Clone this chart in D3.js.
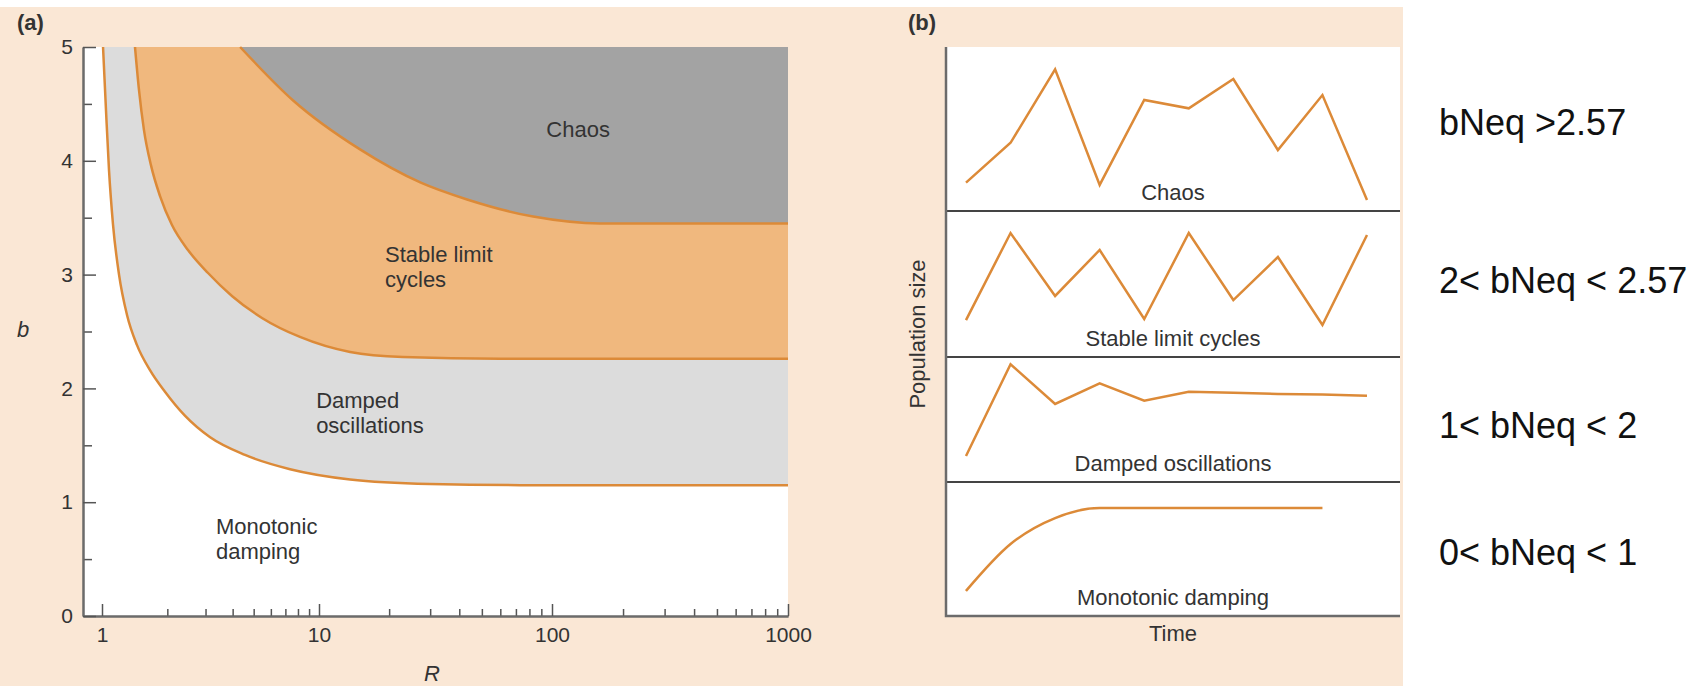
<!DOCTYPE html>
<html>
<head>
<meta charset="utf-8">
<script src="https://cdn.jsdelivr.net/npm/d3@7"></script>
<style>
	body { margin: 0; background: #fff; }
	svg { display: block; font-family: "Liberation Sans", Arial, Helvetica, sans-serif; }
</style>
</head>
<body>
<div class="chart"></div>
<script>
// ---- panel (a): stability boundaries in the (R, b) plane ----
const monoR = [1.011, 1.043, 1.077, 1.124, 1.198, 1.304, 1.45, 1.664, 1.951, 2.41, 3.15, 4.56, 7.36, 13.6, 29.9, 73.2, 1000];
const monoB = [5.0, 4.45, 3.92, 3.44, 3.0, 2.645, 2.38, 2.16, 1.97, 1.76, 1.57, 1.415, 1.29, 1.2, 1.16, 1.15, 1.15];
const dampR = [1.419, 1.481, 1.561, 1.682, 1.851, 2.101, 2.49, 3.08, 3.97, 5.46, 8.17, 13.6, 22.9, 59.9, 1000];
const dampB = [5.0, 4.62, 4.27, 3.96, 3.69, 3.436, 3.216, 3.014, 2.812, 2.619, 2.452, 2.32, 2.276, 2.26, 2.26];
const chaosR = [4.33, 7.6, 15, 27.2, 43.2, 83, 160, 1000];
const chaosB = [5.0, 4.53, 4.1, 3.81, 3.66, 3.51, 3.45, 3.45];

const xMajor = [1, 10, 100, 1000];
const xMinor = [2, 3, 4, 5, 6, 7, 8, 9, 20, 30, 40, 50, 60, 70, 80, 90, 200, 300, 400, 500, 600, 700, 800, 900];
const yMajor = [0, 1, 2, 3, 4, 5];
const yMinor = [0.5, 1.5, 2.5, 3.5, 4.5];

const regionText = [["Chaos"], ["Stable limit", "cycles"], ["Damped", "oscillations"], ["Monotonic", "damping"]];
const regionR = [129, 19.2, 9.7, 3.35];
const regionB = [4.21, 3.11, 1.83, 0.72];

// ---- panel (b): population size over time ----
const timeSteps = [0, 1, 2, 3, 4, 5, 6, 7, 8, 9];
const chaosSeries = [1.73, 4.16, 8.64, 1.59, 6.77, 6.26, 8.05, 3.72, 7.07, 0.67];
const cycleSeries = [2.53, 8.49, 4.18, 7.33, 2.60, 8.49, 3.90, 6.85, 2.19, 8.36];
const dampedSeries = [2.08, 9.42, 6.24, 7.90, 6.50, 7.22, 7.14, 7.04, 7.0, 6.9];
const monoSeries = [1.87, 5.37, 7.31, 8.06, 8.06, 8.06, 8.06, 8.06, 8.06];
const panelNames = ["Chaos", "Stable limit cycles", "Damped oscillations", "Monotonic damping"];

const conditions = ["bNeq >2.57", "2< bNeq < 2.57", "1< bNeq < 2", "0< bNeq < 1"];

(function () {
	const orange = "#dc8a38";
	const axisGrey = "#6b6b6b";
	const ink = "#333";

	const svg = d3.select(".chart").append("svg")
		.attr("width", 1704)
		.attr("height", 686);

	svg.append("rect")
		.attr("x", 0).attr("y", 7)
		.attr("width", 1403).attr("height", 679)
		.attr("fill", "#fae7d5");

	drawPanelA(svg, orange, axisGrey, ink);
	drawPanelB(svg, orange, axisGrey, ink);

	// conditions on the right
	const yCond = [135, 293, 438, 565];
	svg.selectAll(".cond")
		.data(conditions)
		.enter().append("text")
		.attr("class", "cond")
		.attr("x", 1439)
		.attr("y", function (d, i) { return yCond[i]; })
		.attr("font-size", 36)
		.attr("fill", "#111")
		.text(function (d) { return d; });
}());

function drawPanelA(svg, orange, axisGrey, ink) {
	const left = 83, right = 788, top = 47, bottom = 616;

	// the hand-drawn decades are not evenly spaced, so the log scale is piecewise
	const x = d3.scaleLog()
		.domain([0.83, 1, 10, 100, 1000])
		.range([left, 102, 319, 552, right]);
	const y = d3.scaleLinear().domain([0, 5]).range([bottom, top]);

	svg.append("text")
		.attr("x", 17).attr("y", 30)
		.attr("font-size", 22).attr("font-weight", "bold")
		.attr("fill", ink)
		.text("(a)");

	svg.append("rect")
		.attr("x", left).attr("y", top)
		.attr("width", right - left).attr("height", bottom - top)
		.attr("fill", "#fff");

	const boundaries = [
		{R: monoR, B: monoB, fill: "#dcdcdc"},
		{R: dampR, B: dampB, fill: "#f0b87e"},
		{R: chaosR, B: chaosB, fill: "#a3a3a3"}
	];

	const area = d3.area()
		.x(function (d) { return x(d[0]); })
		.y0(function (d) { return y(d[1]); })
		.y1(y(5))
		.curve(d3.curveMonotoneX);
	const line = d3.line()
		.x(function (d) { return x(d[0]); })
		.y(function (d) { return y(d[1]); })
		.curve(d3.curveMonotoneX);

	boundaries.forEach(function (bd) {
		svg.append("path")
			.datum(d3.zip(bd.R, bd.B))
			.attr("fill", bd.fill)
			.attr("d", area);
	});
	boundaries.forEach(function (bd) {
		svg.append("path")
			.datum(d3.zip(bd.R, bd.B))
			.attr("fill", "none")
			.attr("stroke", orange)
			.attr("stroke-width", 2.5)
			.attr("d", line);
	});

	// region labels
	regionText.forEach(function (lines, i) {
		const t = svg.append("text")
			.attr("x", x(regionR[i]))
			.attr("y", y(regionB[i]))
			.attr("font-size", 22)
			.attr("fill", ink)
			.attr("text-anchor", i === 0 ? "middle" : "start");
		lines.forEach(function (s, j) {
			t.append("tspan")
				.attr("x", x(regionR[i]))
				.attr("dy", j === 0 ? 0 : 25)
				.text(s);
		});
	});

	// ticks point into the plot
	const xAxisMajor = d3.axisBottom(x).tickValues(xMajor)
		.tickSize(-12).tickSizeOuter(0).tickPadding(11)
		.tickFormat(d3.format("d"));
	const xAxisMinor = d3.axisBottom(x).tickValues(xMinor)
		.tickSize(-7).tickSizeOuter(0).tickFormat("");

	const gxMinor = svg.append("g").attr("transform", "translate(0," + bottom + ")").call(xAxisMinor);
	const gx = svg.append("g").attr("transform", "translate(0," + bottom + ")").call(xAxisMajor);

	const yAxisMajor = d3.axisLeft(y).tickValues(yMajor)
		.tickSize(-13).tickSizeOuter(0).tickPadding(10)
		.tickFormat(d3.format("d"));
	const yAxisMinor = d3.axisLeft(y).tickValues(yMinor)
		.tickSize(-9).tickSizeOuter(0).tickFormat("");

	const gyMinor = svg.append("g").attr("transform", "translate(" + left + ",0)").call(yAxisMinor);
	const gy = svg.append("g").attr("transform", "translate(" + left + ",0)").call(yAxisMajor);

	[gx, gxMinor, gy, gyMinor].forEach(function (g) {
		g.select(".domain").attr("stroke", axisGrey).attr("stroke-width", 2);
		g.selectAll(".tick line").attr("stroke", "#555").attr("stroke-width", 1.5);
		g.selectAll(".tick text")
			.attr("font-size", 21)
			.attr("font-family", "Liberation Sans, Arial, sans-serif")
			.attr("fill", ink);
	});

	svg.append("text")
		.attr("x", 23).attr("y", 337)
		.attr("font-size", 22).attr("font-style", "italic")
		.attr("text-anchor", "middle").attr("fill", ink)
		.text("b");
	svg.append("text")
		.attr("x", 432).attr("y", 681)
		.attr("font-size", 22).attr("font-style", "italic")
		.attr("text-anchor", "middle").attr("fill", ink)
		.text("R");
}

function drawPanelB(svg, orange, axisGrey, ink) {
	const left = 946, right = 1400, top = 47, bottom = 616;
	const rows = [[47, 211], [211, 357], [357, 482], [482, 616]];
	const series = [chaosSeries, cycleSeries, dampedSeries, monoSeries];

	svg.append("text")
		.attr("x", 908).attr("y", 30)
		.attr("font-size", 22).attr("font-weight", "bold")
		.attr("fill", ink)
		.text("(b)");

	svg.append("rect")
		.attr("x", left).attr("y", top)
		.attr("width", right - left).attr("height", bottom - top)
		.attr("fill", "#fff");

	const t = d3.scaleLinear().domain([0, 9]).range([966, 1367]);

	rows.forEach(function (r, i) {
		const py = d3.scaleLinear().domain([0, 10]).range([r[1], r[0]]);
		const line = d3.line()
			.x(function (d, k) { return t(timeSteps[k]); })
			.y(function (d) { return py(d); })
			.curve(i === 3 ? d3.curveMonotoneX : d3.curveLinear);

		svg.append("path")
			.datum(series[i])
			.attr("fill", "none")
			.attr("stroke", orange)
			.attr("stroke-width", 2.5)
			.attr("d", line);

		svg.append("text")
			.attr("x", (left + right) / 2)
			.attr("y", r[1] - 11)
			.attr("font-size", 22)
			.attr("text-anchor", "middle")
			.attr("fill", ink)
			.text(panelNames[i]);

		if (i < 3) {
			svg.append("line")
				.attr("x1", left).attr("x2", right)
				.attr("y1", r[1]).attr("y2", r[1])
				.attr("stroke", "#444").attr("stroke-width", 2);
		}
	});

	svg.append("path")
		.attr("d", "M" + left + "," + top + "V" + bottom + "H" + right)
		.attr("fill", "none")
		.attr("stroke", axisGrey)
		.attr("stroke-width", 2.5);

	svg.append("text")
		.attr("x", (left + right) / 2).attr("y", 641)
		.attr("font-size", 22).attr("text-anchor", "middle")
		.attr("fill", ink)
		.text("Time");

	svg.append("text")
		.attr("transform", "translate(925,334) rotate(-90)")
		.attr("font-size", 22).attr("text-anchor", "middle")
		.attr("fill", ink)
		.text("Population size");
}
</script>
</body>
</html>
